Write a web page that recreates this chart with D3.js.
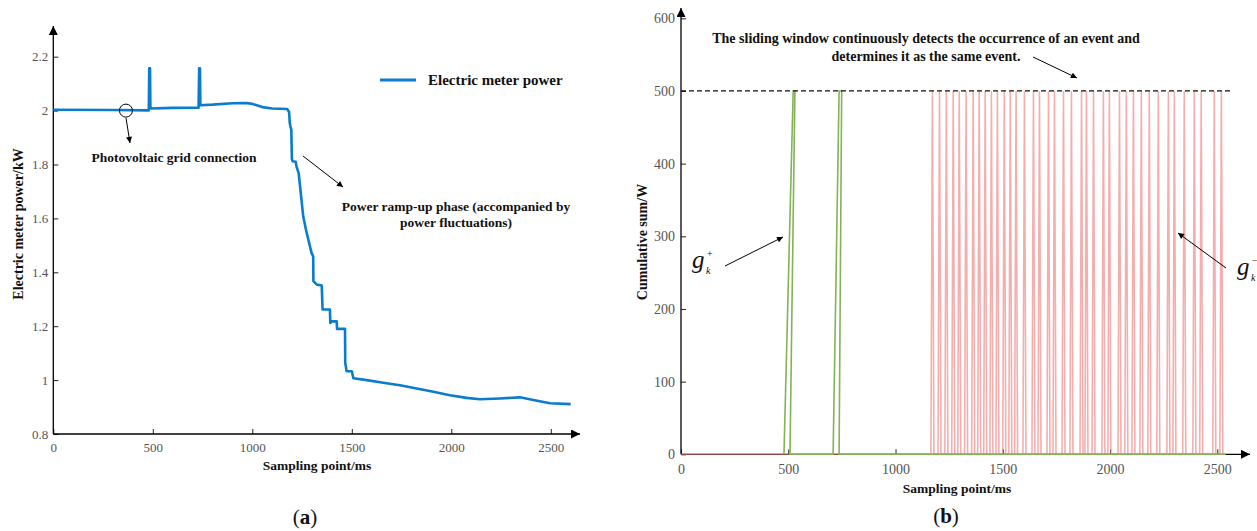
<!DOCTYPE html>
<html><head><meta charset="utf-8">
<script src="https://cdn.jsdelivr.net/npm/d3@7"></script>
<style>
html,body{margin:0;padding:0;background:#fff;}
svg text{font-family:"Liberation Serif","Times New Roman",serif;}
</style></head>
<body><svg id="c" width="1257" height="531"></svg>
<script>
// ---------- data: panel (a) ----------
const meterX = [0,300,480,482,486,488,600,730,733,737,739,800,900,970,1000,1050,1100,1175,1185,1188,1192,1196,1199,1203,1218,1223,1233,1256,1270,1298,1306,1307,1323,1349,1353,1390,1392,1399,1424,1426,1466,1467,1474,1500,1508,1575,1658,1742,1826,1910,1993,2077,2144,2245,2345,2412,2496,2600];
const meterY = [2.003,2.002,2.001,2.157,2.157,2.008,2.010,2.011,2.157,2.157,2.020,2.022,2.027,2.028,2.025,2.013,2.008,2.006,1.995,1.955,1.940,1.930,1.820,1.812,1.810,1.790,1.768,1.607,1.557,1.471,1.459,1.367,1.355,1.351,1.262,1.262,1.212,1.218,1.218,1.190,1.190,1.064,1.033,1.033,1.007,1.000,0.990,0.981,0.969,0.957,0.944,0.934,0.929,0.932,0.936,0.926,0.914,0.911];
const aXTicks = [0,500,1000,1500,2000,2500];
const aYTicks = [0.8,1.0,1.2,1.4,1.6,1.8,2.0,2.2];
// ---------- data: panel (b) ----------
const gPlusX = [480,523,531,508,709,737,749,737,2540];
const gPlusY = [0,500,500,0,0,500,500,0,0];
const gMinusStarts = [1165,1198,1230,1262,1290,1322,1355,1383,1411,1440,1468,1500,1528,1555,1594,1636,1664,1706,1734,1776,1813,1860,1883,1916,1962,1990,2037,2069,2102,2139,2176,2218,2265,2293,2339,2386,2418,2479,2512];
const gMinusPeak = 500;
const threshold = 500;
const bXTicks = [0,500,1000,1500,2000,2500];
const bYTicks = [0,100,200,300,400,500,600];

const svg = d3.select("#c");
const defs = svg.append("defs");
function mk(id,w,h){
  defs.append("marker").attr("id",id).attr("viewBox","0 0 10 10").attr("refX",10).attr("refY",5)
    .attr("markerWidth",w).attr("markerHeight",h).attr("markerUnits","userSpaceOnUse").attr("orient","auto")
    .append("path").attr("d","M0,0 L10,5 L0,10 z").attr("fill","#000");
}
mk("axArrow",10,9); mk("anArrow",8,6);

function drawAxes(x,y,xTicks,yTicks,xMinor,yMinor,xEnd,yTop,fs,xPad,yPad,fmtY){
  const gx = svg.append("g").attr("transform",`translate(0,${y.range()[0]})`);
  gx.call(d3.axisBottom(x).tickValues(xMinor).tickSize(-2.5).tickFormat(""));
  gx.call(d3.axisBottom(x).tickValues(xTicks).tickSize(-5).tickPadding(xPad).tickFormat(d3.format("d")));
  gx.selectAll(".domain").remove();
  gx.selectAll("text").attr("font-size",fs).attr("fill","#555").attr("font-family","Liberation Serif");
  gx.selectAll("line").attr("stroke","#222");
  const gy = svg.append("g").attr("transform",`translate(${x.range()[0]},0)`);
  gy.call(d3.axisLeft(y).tickValues(yMinor).tickSize(-2.5).tickFormat(""));
  gy.call(d3.axisLeft(y).tickValues(yTicks).tickSize(-5).tickPadding(yPad).tickFormat(fmtY));
  gy.selectAll(".domain").remove();
  gy.selectAll("text").attr("font-size",fs).attr("fill","#555").attr("font-family","Liberation Serif");
  gy.selectAll("line").attr("stroke","#222");
  svg.append("line").attr("x1",x.range()[0]).attr("x2",xEnd).attr("y1",y.range()[0]).attr("y2",y.range()[0])
    .attr("stroke","#000").attr("stroke-width",1.3).attr("marker-end","url(#axArrow)");
  svg.append("line").attr("x1",x.range()[0]).attr("x2",x.range()[0]).attr("y1",y.range()[0]).attr("y2",yTop)
    .attr("stroke","#000").attr("stroke-width",1.3).attr("marker-end","url(#axArrow)");
}
function txt(x,y,s,o={}){
  const t = svg.append("text").attr("x",x).attr("y",y).text(s)
    .attr("font-size",o.fs||13.5).attr("font-weight",o.fw||"bold").attr("text-anchor",o.anchor||"middle").attr("fill","#111");
  if(o.rot) t.attr("transform",`rotate(-90,${x},${y})`);
  return t;
}
function arrow(x1,y1,x2,y2){
  svg.append("line").attr("x1",x1).attr("y1",y1).attr("x2",x2).attr("y2",y2)
    .attr("stroke","#000").attr("stroke-width",1).attr("marker-end","url(#anArrow)");
}

// ================= panel (a) =================
const xa = d3.scaleLinear().domain([0,2500]).range([53.3,550.8]);
const ya = d3.scaleLinear().domain([0.8,2.2]).range([434,56.7]);
drawAxes(xa,ya,aXTicks,aYTicks,d3.range(0,2601,100),d3.range(0.8,2.2001,0.05),580,26,13,8.5,5,d=>d3.format("~g")(+d.toFixed(1)));
const aData = meterX.map((v,i)=>[v,meterY[i]]);
svg.append("path").datum(aData).attr("fill","none").attr("stroke","#0a7ccd").attr("stroke-width",2.6)
  .attr("stroke-linejoin","round").attr("d",d3.line().x(d=>xa(d[0])).y(d=>ya(d[1])));
// legend
svg.append("line").attr("x1",380).attr("x2",416).attr("y1",80).attr("y2",80).attr("stroke","#0a7ccd").attr("stroke-width",3);
txt(428,85,"Electric meter power",{fs:15,anchor:"start"});
// annotations
svg.append("circle").attr("cx",xa(365)).attr("cy",ya(2.0)).attr("r",6.5).attr("fill","none").attr("stroke","#000").attr("stroke-width",1);
arrow(126,118,130,143);
txt(174,162,"Photovoltaic grid connection");
arrow(303,156,343,187);
txt(456,211,"Power ramp-up phase (accompanied by");
txt(456,227,"power fluctuations)");
txt(23,224,"Electric meter power/kW",{fs:14,rot:true});
txt(317,470,"Sampling point/ms");
const la = svg.append("text").attr("x",305).attr("y",524).attr("text-anchor","middle").attr("font-size",21).attr("fill","#111");
la.append("tspan").text("(");la.append("tspan").attr("font-weight","bold").text("a");la.append("tspan").text(")");

// ================= panel (b) =================
const xb = d3.scaleLinear().domain([0,2500]).range([681,1217.3]);
const yb = d3.scaleLinear().domain([0,600]).range([454.3,18.3]);
drawAxes(xb,yb,bXTicks,bYTicks,d3.range(0,2601,100),d3.range(0,601,20),1250,8,14,10,6,d3.format("d"));
const lineB = d3.line().x(d=>xb(d[0])).y(d=>yb(d[1]));
// g_k^- (red)
const redPts = [[0,0],[1150,0]];
gMinusStarts.forEach(s=>{redPts.push([s,0],[s+7,gMinusPeak],[s+14,0]);});
redPts.push([2540,0]);
// g_k^+ (green)
const greenPts = gPlusX.map((v,i)=>[v,gPlusY[i]]);
svg.append("path").datum(redPts).attr("fill","none").attr("stroke","#ee7878").attr("stroke-opacity",0.6).attr("stroke-width",1.6).attr("d",lineB);
svg.append("path").datum(greenPts).attr("fill","none").attr("stroke","#84b256").attr("stroke-width",1.6).attr("d",lineB);
// threshold
svg.append("line").attr("x1",xb(0)).attr("x2",xb(2572)).attr("y1",yb(threshold)).attr("y2",yb(threshold))
  .attr("stroke","#111").attr("stroke-width",1.2).attr("stroke-dasharray","5,3");
txt(926,43,"The sliding window continuously detects the occurrence of an event and",{fs:14});
txt(926,61,"determines it as the same event.",{fs:14});
arrow(1033,57,1077,78);
// g labels
function gLabel(x,y,sup){
  svg.append("text").attr("x",x).attr("y",y).attr("font-size",25).attr("font-style","italic").attr("fill","#111").text("g");
  svg.append("text").attr("x",x+15).attr("y",y-11).attr("font-size",10).attr("fill","#111").text(sup);
  svg.append("text").attr("x",x+14).attr("y",y+6).attr("font-size",10).attr("font-style","italic").attr("fill","#111").text("k");
}
gLabel(692,268,"+");
gLabel(1237,275,"−");
arrow(725,266,783,237);
arrow(1226,268,1178,233);
txt(647,242,"Cumulative sum/W",{fs:14,rot:true});
txt(957,493,"Sampling point/ms");
const lb = svg.append("text").attr("x",946).attr("y",523).attr("text-anchor","middle").attr("font-size",21).attr("fill","#111");
lb.append("tspan").text("(");lb.append("tspan").attr("font-weight","bold").text("b");lb.append("tspan").text(")");
</script></body></html>
